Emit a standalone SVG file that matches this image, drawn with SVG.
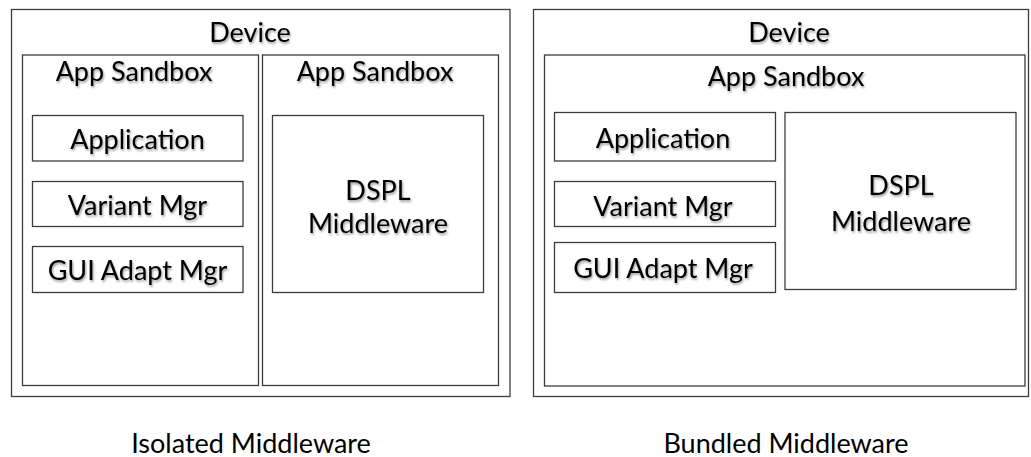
<svg xmlns="http://www.w3.org/2000/svg" width="1031" height="457" viewBox="0 0 1031 457">
<defs>
<filter id="sh" x="-10%" y="-10%" width="120%" height="130%">
<feDropShadow dx="1" dy="1.8" stdDeviation="1.3" flood-color="#000" flood-opacity="0.4"/>
</filter>
<style>
.box{fill:#fff;stroke:#3c3c3c;stroke-width:1.3}
.t{font-family:Lato,"Liberation Sans",sans-serif;font-size:27px;fill:#000;text-anchor:middle}
.ts{filter:url(#sh)}
.cap{font-family:Lato,"Liberation Sans",sans-serif;font-size:27px;fill:#000;text-anchor:middle}
</style>
</defs>
<rect width="1031" height="457" fill="#fff"/>
<g id="left-device">
<rect class="box" x="11.5" y="9.5" width="498.5" height="387"/>
<text class="t ts" x="250" y="42">Device</text>
</g>
<g id="left-sandbox-app">
<rect class="box" x="22.5" y="55" width="236" height="330.5"/>
<text class="t ts" x="134" y="81">App Sandbox</text>
</g>
<g id="left-sandbox-mw">
<rect class="box" x="262.5" y="55" width="236" height="330.5"/>
<text class="t ts" x="375" y="81">App Sandbox</text>
</g>
<g id="left-application">
<rect class="box" x="32.5" y="115.5" width="210.5" height="45.5"/>
<text class="t ts" x="137.5" y="149">Application</text>
</g>
<g id="left-variant">
<rect class="box" x="32.5" y="181.5" width="210.5" height="45"/>
<text class="t ts" x="137.5" y="215">Variant Mgr</text>
</g>
<g id="left-gui">
<rect class="box" x="32.5" y="246.5" width="210.5" height="46"/>
<text class="t ts" x="137.5" y="280">GUI Adapt Mgr</text>
</g>
<g id="left-dspl">
<rect class="box" x="272.5" y="115.5" width="211" height="177"/>
<text class="t ts" x="378" y="200">DSPL</text>
<text class="t ts" x="378" y="233">Middleware</text>
</g>
<g id="right-device">
<rect class="box" x="533.5" y="9.5" width="495" height="387"/>
<text class="t ts" x="789" y="42">Device</text>
</g>
<g id="right-sandbox">
<rect class="box" x="544.5" y="55" width="480.5" height="331"/>
<text class="t ts" x="786" y="86">App Sandbox</text>
</g>
<g id="right-application">
<rect class="box" x="554.5" y="112.5" width="221" height="48.5"/>
<text class="t ts" x="663" y="148">Application</text>
</g>
<g id="right-variant">
<rect class="box" x="554.5" y="181.5" width="221" height="45"/>
<text class="t ts" x="663" y="216">Variant Mgr</text>
</g>
<g id="right-gui">
<rect class="box" x="554.5" y="242.5" width="221" height="50"/>
<text class="t ts" x="663" y="278">GUI Adapt Mgr</text>
</g>
<g id="right-dspl">
<rect class="box" x="785" y="112.5" width="231" height="177"/>
<text class="t ts" x="901" y="195">DSPL</text>
<text class="t ts" x="901" y="231">Middleware</text>
</g>
<g id="captions">
<text class="cap" x="251" y="453">Isolated Middleware</text>
<text class="cap" x="786" y="453">Bundled Middleware</text>
</g>
<g id="connectors"/>
</svg>
